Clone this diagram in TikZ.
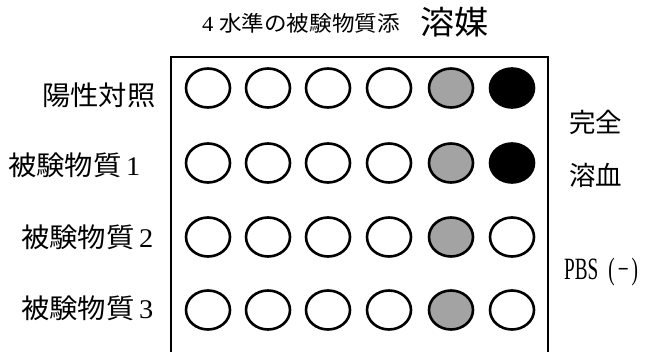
\documentclass[tikz,border=0pt]{standalone}
\usepackage{fontspec}
\usetikzlibrary{shapes.geometric}
\setmainfont{Liberation Serif}
\newfontfamily\jp[FakeStretch=1.05]{Noto Sans CJK JP}
\newfontfamily\jpn{Noto Sans CJK JP}
\newfontfamily\dig[FakeStretch=1.05]{Liberation Serif}
\newfontfamily\narrow[FakeStretch=0.62]{Liberation Serif}
\tikzset{
  well/.style={ellipse, draw=black, line width=2.6pt, minimum width=44pt, minimum height=39pt, inner sep=0pt},
  empty/.style={well, fill=white},
  part/.style={well, fill=black!36},
  full/.style={well, fill=black},
  rowlabel/.style={anchor=west, inner sep=0pt, font=\fontsize{27}{27}\selectfont},
  sidelabel/.style={anchor=west, inner sep=0pt, font=\jpn\fontsize{26.5}{27}\selectfont},
  frame/.style={line width=2.4pt}
}
\begin{document}
\begin{tikzpicture}[x=1pt,y=-1pt]
\useasboundingbox (0,0) rectangle (650,352);
\fill[white] (0,0) rectangle (650,352);
\begin{scope}
\clip (0,0) rectangle (650,352);
\coordinate (bl) at (171,360);
\coordinate (tl) at (171,57);
\coordinate (tr) at (548,57);
\coordinate (br) at (548,360);
\draw[frame] (bl) -- (tl) -- (tr) -- (br);
\end{scope}
% title
\node[anchor=west, inner sep=0pt] (title) at (202,23) {\fontsize{21.5}{22}\selectfont\dig 4\ {\jp\fontsize{21.5}{22}\selectfont 水準の被験物質添}};
\node[anchor=west, inner sep=0pt] (solv) at (420,22) {\jp\fontsize{32.5}{33}\selectfont 溶媒};
% row labels
\node[rowlabel] (r1) at (42,95) {\jp 陽性対照};
\node[rowlabel] (r2) at (8,165) {\jp 被験物質\,{\dig 1}};
\node[rowlabel] (r3) at (21,237) {\jp 被験物質\,{\dig 2}};
\node[rowlabel] (r4) at (21,308) {\jp 被験物質\,{\dig 3}};
% wells
\foreach \r/\y in {1/88,2/163,3/237,4/310}{
  \foreach \c/\x in {1/208,2/268,3/328,4/389}{
    \node[empty] (w\r\c) at (\x,\y) {};
  }
  \node[part] (w\r5) at (451,\y) {};
}
\node[full] (w16) at (512,88) {};
\node[full] (w26) at (512,163) {};
\node[empty] (w36) at (512,237) {};
\node[empty] (w46) at (512,310) {};
% side labels
\node[sidelabel] (s1) at (569,122) {完全};
\node[sidelabel] (s2) at (569,175) {溶血};
\node[anchor=west, inner sep=0pt] (s3) at (564,272) {\narrow\fontsize{31}{31}\selectfont PBS\hspace{10pt}(\hspace{3pt}−\hspace{3pt})};
\end{tikzpicture}
\end{document}
